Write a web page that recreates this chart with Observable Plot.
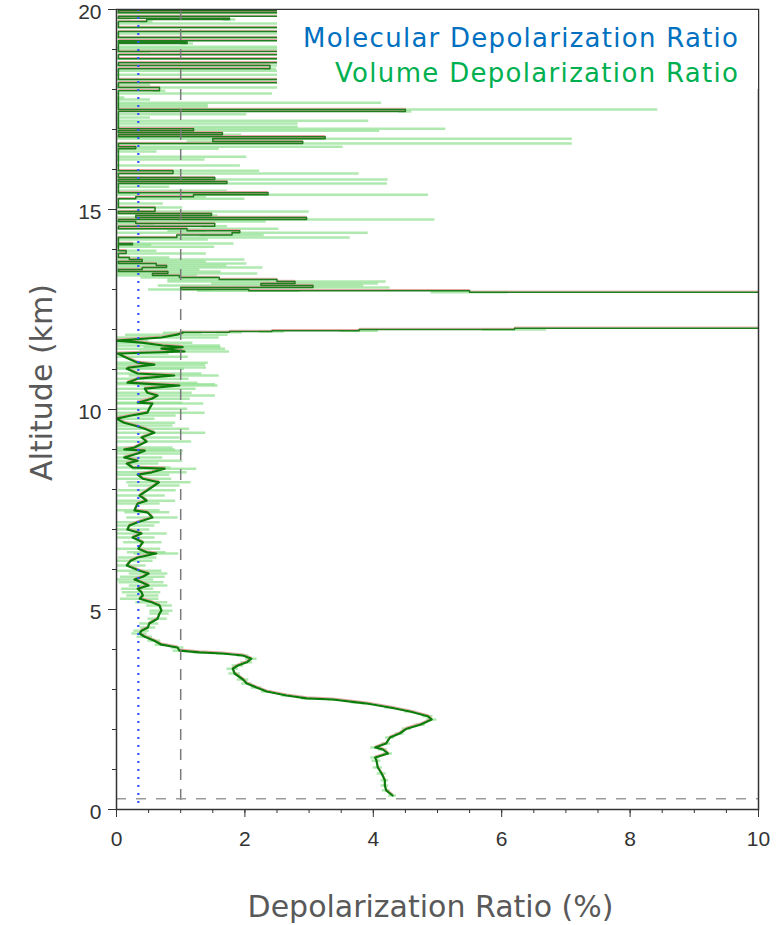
<!DOCTYPE html>
<html><head><meta charset="utf-8">
<script src="https://cdn.jsdelivr.net/npm/d3@7"></script>
<script src="https://cdn.jsdelivr.net/npm/@observablehq/plot@0.6"></script>
<style>
body{margin:0;background:#fff;}
#wrap{position:relative;width:779px;height:925px;}
#legend{position:absolute;left:277px;top:10px;}
</style></head><body><div id="wrap"></div>
<script>
// [altitude km, volume depolarization ratio %, uncertainty %]
const boundaryLayer = [
[0.35,4.30,0.06],[0.48,4.20,0.06],[0.60,4.18,0.06],[0.73,4.18,0.06],[0.90,4.13,0.07],[1.05,4.07,0.07],[1.22,4.05,0.07],[1.30,4.03,0.07],[1.40,4.23,0.07],[1.50,4.15,0.07],
[1.55,4.03,0.07],[1.65,4.20,0.07],[1.80,4.26,0.07],[1.90,4.41,0.07],[2.02,4.52,0.07],[2.12,4.73,0.08],[2.25,4.91,0.08],[2.33,4.85,0.08],[2.45,4.57,0.08],[2.55,4.26,0.08],
[2.65,3.90,0.08],[2.68,3.74,0.08],[2.75,3.37,0.08],[2.78,2.96,0.08],[2.85,2.65,0.08],[2.95,2.34,0.08],[3.05,2.18,0.08],[3.15,2.03,0.08],[3.25,1.97,0.09],[3.40,1.84,0.09],
[3.52,1.81,0.09],[3.60,1.89,0.09],[3.68,2.03,0.09],[3.77,2.10,0.09],[3.85,1.97,0.09],[3.90,1.65,0.09],[3.93,1.29,0.09],[3.97,0.98,0.10],[4.05,0.95,0.10],[4.12,0.70,0.10],
[4.22,0.59,0.10],[4.32,0.44,0.12],[4.40,0.36,0.12],[4.47,0.39,0.12],[4.55,0.49,0.12],[4.65,0.51,0.15],[4.77,0.64,0.15],[4.90,0.67,0.15],[4.97,0.70,0.18]
];
const freeTroposphere = [
[5.10,0.67,0.20],[5.18,0.55,0.25],[5.27,0.36,0.30],[5.35,0.41,0.25],[5.43,0.39,0.30],[5.52,0.33,0.25],[5.60,0.50,0.30],[5.68,0.39,0.35],[5.75,0.28,0.30],[5.82,0.41,0.35],
[5.90,0.50,0.30],[5.97,0.36,0.35],[6.10,0.16,0.30],[6.22,0.22,0.35],[6.30,0.33,0.30],[6.40,0.62,0.35],[6.43,0.47,0.30],[6.52,0.34,0.35],[6.68,0.41,0.30],[6.80,0.25,0.35],
[6.90,0.39,0.40],[7.00,0.17,0.35],[7.10,0.20,0.40],[7.18,0.33,0.35],[7.30,0.56,0.40],[7.43,0.48,0.35],[7.48,0.28,0.40],[7.65,0.33,0.35],[7.72,0.47,0.45],[7.85,0.36,0.40],
[7.98,0.48,0.45],[8.10,0.59,0.40],[8.18,0.66,0.50],[8.27,0.41,0.45],[8.37,0.33,0.50],[8.43,0.55,0.55],[8.52,0.75,0.50],[8.55,0.25,0.60],[8.65,0.16,0.50],[8.72,0.33,0.70],
[8.80,0.12,0.60],[8.90,0.33,0.70],[8.97,0.44,0.60],[9.00,0.12,0.80],[9.05,0.28,0.60],[9.20,0.47,0.70],[9.30,0.39,0.60],[9.42,0.59,0.80],[9.52,0.44,0.70],[9.60,0.28,0.60],
[9.67,0.12,0.80],[9.77,0.00,0.60],[9.85,0.23,0.70],[9.92,0.48,0.90],[10.02,0.51,0.60],[10.15,0.56,0.80],[10.17,0.33,0.70],[10.27,0.55,0.60],[10.35,0.64,0.90],[10.42,0.48,0.70],
[10.52,0.44,0.80],[10.60,0.98,0.60],[10.63,0.64,0.90],[10.67,0.17,1.10],[10.77,0.33,0.80],[10.85,0.90,0.70],[10.90,0.33,1.00],[11.02,0.16,0.90],[11.05,0.20,1.20],[11.12,0.59,0.80],
[11.17,0.33,1.10],[11.32,0.12,1.00],[11.40,0.02,0.80],[11.45,1.06,0.70],[11.52,0.70,1.00],[11.56,1.03,0.60],[11.60,0.72,0.90],[11.67,0.39,0.80],[11.72,0.00,0.50],[11.80,0.70,0.90],
[11.87,0.94,0.80],[11.92,1.03,0.30]
];
const cirrus = [
[11.93,1.76,0.2],[11.95,2.42,0.2],[11.97,3.78,0.3],[12.00,6.20,0.5],[12.03,12.0,1],[12.15,20,2],[12.30,30,3],[12.45,38,4],[12.60,35,4],[12.75,28,3],
[12.90,16,2],[12.93,5.50,0.6],[12.97,2.06,0.8]
];
const upperTroposphere = [
[13.00,1.00,0.5],[13.05,3.06,1.2],[13.10,2.25,1.6],[13.15,2.78,1.3],[13.20,2.50,1.7],[13.25,1.60,0.8],[13.30,0.98,0.6],[13.35,0.56,0.7],[13.40,0.80,1.4],[13.45,0.03,1.6],
[13.50,0.40,0.9],[13.55,0.78,1.5],[13.60,0.62,1.1],[13.65,0.03,2.0],[13.70,0.40,1.0],[13.75,0.20,1.8],[13.80,0.03,0.8],[13.90,0.15,1.25],[13.97,0.03,0.6],[14.07,0.03,1.5],
[14.12,0.25,0.3],[14.15,0.03,1.8],[14.25,0.03,1.4],[14.30,0.94,2.7],[14.36,1.80,0.5],[14.42,1.92,2.0],[14.47,1.10,0.3],[14.52,0.03,2.5],[14.58,1.53,0.2],[14.65,0.30,0.3],
[14.70,0.03,2.3],[14.75,2.96,2.0],[14.80,0.30,1.2],[14.85,1.48,0.1],[14.90,0.03,1.4],[14.95,0.60,2.4],[15.05,0.03,1.0],[15.15,0.03,0.7],[15.27,0.30,1.7],[15.32,1.20,0.2],
[15.37,2.36,2.5],[15.42,0.03,0.3],[15.47,0.03,1.7],[15.57,0.03,0.8],[15.65,1.72,2.5],[15.70,0.03,0.3],[15.75,1.53,2.7],[15.80,0.03,0.4],[15.90,0.88,2.9],[15.97,0.03,2.2],
[16.10,0.03,1.9],[16.25,0.03,1.35],[16.32,0.03,2.0],[16.45,0.03,0.6],[16.52,0.30,1.3],[16.57,0.03,3.5],[16.65,2.90,4.2],[16.70,1.50,0.4],[16.77,3.25,3.85],[16.82,0.03,0.3],
[16.87,1.65,0.3],[16.92,0.03,0.3],[16.97,1.20,2.9],[17.02,0.03,5.1],[17.07,0.03,2.8],[17.15,0.03,2.8],[17.22,0.03,3.9],[17.30,0.03,0.5],[17.38,0.03,2.0],[17.45,4.50,0.1],
[17.50,0.03,8.4],[17.57,0.03,1.4],[17.62,0.03,1.4],[17.67,0.03,4.1],[17.75,0.03,0.5],[17.80,0.03,0.1],[17.90,0.03,2.4],[17.97,0.67,0.1],[18.05,0.03,3.0],[18.12,0.03,0.5],
[18.17,3.50,1.0],[18.25,0.03,3.0],[18.37,0.03,3.0],[18.47,0.03,3.0],[18.52,2.39,0.1],[18.60,0.03,3.0],[18.67,5.00,2.0],[18.77,0.03,3.0],[18.87,5.00,2.0],[18.95,0.03,0.5],
[19.02,0.03,3.0],[19.07,0.03,3.0],[19.15,1.10,0.1],[19.18,0.03,0.2],[19.22,5.00,2.0],[19.30,0.03,3.0],[19.40,0.03,3.0],[19.45,5.00,2.0],[19.55,0.03,3.0],[19.65,0.03,3.0],
[19.70,0.47,0.1],[19.75,1.76,0.1],[19.78,0.03,0.2],[19.83,5.00,2.0],[19.92,0.03,3.0],[19.97,12.0,2.0]
];
const molecularDR = [0.34];      // %
const thresholdDR = [1];         // %
const groundLevel = [0.27];      // km
const xMajorTicks = [0,2,4,6,8,10];
const yMajorTicks = [0,5,10,15,20];
const legendLabels = ["Molecular Depolarization Ratio","Volume Depolarization Ratio"];
const legendColors = ["#0070C0","#00B050"];

const toObj = ([alt, vdr, err]) => ({alt, vdr, err});
const lowerPts = boundaryLayer.concat(freeTroposphere).map(toObj);
const upperPts = [freeTroposphere[freeTroposphere.length-1]].concat(cirrus, upperTroposphere).map(toObj);
const allPts = boundaryLayer.concat(freeTroposphere, cirrus, upperTroposphere).map(toObj);

const green = "#0b7d0b";
const titleFont = "'DejaVu Sans', sans-serif";
const chart = Plot.plot({
  width: 779, height: 925,
  marginLeft: 116, marginRight: 21, marginTop: 9, marginBottom: 116,
  x: {domain: [0, 10]},
  y: {domain: [0, 20]},
  style: {fontFamily: "'Liberation Sans', Arial, sans-serif", fontSize: "21px", color: "#333", background: "#fff", overflow: "visible"},
  marks: [
    Plot.ruleY(allPts, {y: "alt", x1: d => d.vdr - d.err, x2: d => d.vdr + d.err, stroke: "#8ee08e", strokeOpacity: 0.7, strokeWidth: 2.5, clip: true}),
    Plot.line(lowerPts, {x: "vdr", y: "alt", stroke: "#e6a3a3", strokeWidth: 1.2, dy: -1.5, clip: true}),
    Plot.line(upperPts, {x: "vdr", y: "alt", stroke: "#e6a3a3", strokeWidth: 1, dy: -1.2, curve: "step-before", clip: true}),
    Plot.line(lowerPts, {x: "vdr", y: "alt", stroke: green, strokeWidth: 2.2, clip: true}),
    Plot.line(upperPts, {x: "vdr", y: "alt", stroke: "#1f7f1f", strokeWidth: 1.5, curve: "step-before", clip: true}),
    Plot.ruleX(thresholdDR, {stroke: "#7a7a7a", strokeDasharray: "11,9", strokeWidth: 1.5}),
    Plot.ruleY(groundLevel, {stroke: "#9a9a9a", strokeDasharray: "10,10", strokeWidth: 1.5}),
    Plot.ruleX(molecularDR, {stroke: "#3355ff", strokeDasharray: "2,6", strokeWidth: 2.2}),
    Plot.frame({stroke: "#333", strokeWidth: 1.5}),
    Plot.axisX({ticks: d3.range(0, 10.01, 0.5), tickSize: 4, tickFormat: () => "", label: null}),
    Plot.axisX({ticks: xMajorTicks, tickSize: 8, tickPadding: 14, label: null}),
    Plot.axisY({ticks: d3.range(0, 20.01, 1), tickSize: 4, tickFormat: () => "", label: null}),
    Plot.axisY({ticks: yMajorTicks, tickSize: 8, tickFormat: () => "", label: null}),
    Plot.axisY({ticks: yMajorTicks, tickSize: 0, tickPadding: 15, dy: 3, label: null}),
    Plot.text(["Altitude (km)"], {frameAnchor: "left", rotate: -90, dx: -74, dy: -27, textAnchor: "middle", lineAnchor: "middle", fontSize: 30, fill: "#595959", fontFamily: titleFont}),
    Plot.text(["Depolarization Ratio (%)"], {frameAnchor: "bottom", dx: -7, dy: 98, textAnchor: "middle", lineAnchor: "middle", fontSize: 30, fill: "#595959", fontFamily: titleFont})
  ]
});
const wrap = document.getElementById("wrap");
wrap.appendChild(chart);

// legend overlay (white box with coloured series names)
const legendWidths = [435, 403];
const lg = d3.select(wrap).append("svg").attr("id", "legend").attr("width", 481).attr("height", 79);
lg.append("rect").attr("width", 481).attr("height", 79).attr("fill", "#fff");
lg.selectAll("text").data(legendLabels).join("text")
  .attr("x", (d, i) => 461 - legendWidths[i]).attr("y", (d, i) => 37 + i * 35)
  .attr("textLength", (d, i) => legendWidths[i])
  .attr("lengthAdjust", "spacing")
  .attr("font-family", titleFont)
  .attr("font-size", 26)
  .attr("fill", (d, i) => legendColors[i])
  .text(d => d);
</script></body></html>
